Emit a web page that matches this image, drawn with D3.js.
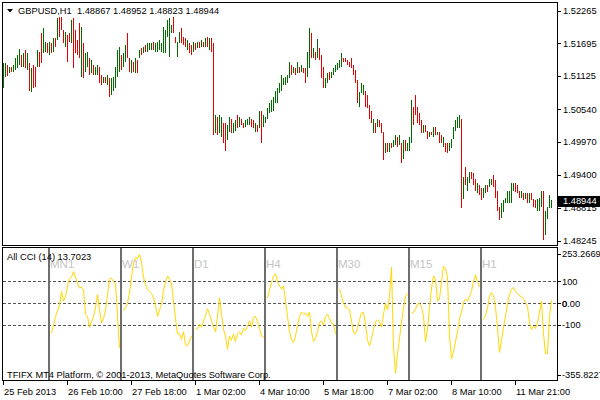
<!DOCTYPE html>
<html><head><meta charset="utf-8">
<script src="https://cdn.jsdelivr.net/npm/d3@7"></script>
<style>
html,body{margin:0;padding:0;background:#fff;}
svg{display:block;}
text{font-family:"Liberation Sans",Arial,sans-serif;white-space:pre;}
</style>
</head><body>
<svg id="c" width="600" height="400"></svg>
<script>
// ---------- DATA ----------
const chartTitle = "GBPUSD,H1  1.48867 1.48952 1.48823 1.48944";
const indicatorTitle = "All CCI (14) 13.7023";
const copyrightText = "TFIFX MT4 Platform, \u00a9 2001-2013, MetaQuotes Software Corp.";
const lastPrice = 1.48944;

const priceHigh = [
1.5135,1.5135,1.5131,1.5128,1.5128,1.5131,1.5143,1.5149,1.5159,1.5149,
1.5152,1.5157,1.5152,1.5135,1.5126,1.5131,1.5128,1.5157,1.5154,1.5187,
1.5196,1.5172,1.5170,1.5172,1.5170,1.5178,1.5178,1.5213,1.5215,1.5215,
1.5192,1.5189,1.5184,1.5187,1.5210,1.5213,1.5192,1.5175,1.5205,1.5198,
1.5170,1.5152,1.5154,1.5143,1.5140,1.5131,1.5128,1.5131,1.5128,1.5114,
1.5110,1.5110,1.5114,1.5108,1.5108,1.5110,1.5128,1.5157,1.5163,1.5149,
1.5152,1.5166,1.5187,1.5143,1.5140,1.5136,1.5143,1.5140,1.5157,1.5161,
1.5163,1.5166,1.5170,1.5170,1.5170,1.5172,1.5170,1.5172,1.5175,1.5170,
1.5198,1.5192,1.5210,1.5213,1.5201,1.5215,1.5180,1.5172,1.5189,1.5196,
1.5180,1.5178,1.5175,1.5170,1.5166,1.5172,1.5170,1.5172,1.5172,1.5175,
1.5172,1.5178,1.5180,1.5178,1.5178,1.5170,1.5044,1.5040,1.5044,1.5040,
1.5031,1.5030,1.5026,1.5040,1.5038,1.5030,1.5035,1.5044,1.5040,1.5038,
1.5031,1.5035,1.5038,1.5040,1.5038,1.5035,1.5030,1.5026,1.5052,1.5052,
1.5044,1.5040,1.5056,1.5065,1.5070,1.5075,1.5087,1.5091,1.5100,1.5114,
1.5108,1.5110,1.5114,1.5136,1.5131,1.5128,1.5126,1.5136,1.5128,1.5131,
1.5126,1.5126,1.5154,1.5196,1.5187,1.5161,1.5154,1.5177,1.5161,1.5149,
1.5128,1.5108,1.5117,1.5119,1.5119,1.5126,1.5131,1.5135,1.5140,1.5152,
1.5143,1.5143,1.5140,1.5136,1.5143,1.5131,1.5122,1.5105,1.5084,1.5101,
1.5096,1.5087,1.5079,1.5061,1.5052,1.5038,1.5031,1.5038,1.5035,1.5030,
1.5014,1.4995,1.4996,1.4995,1.4996,1.5000,1.5009,1.5005,1.5009,1.4996,
1.5000,1.5000,1.4996,1.5005,1.5070,1.5058,1.5079,1.5058,1.5047,1.5035,
1.5026,1.5026,1.5017,1.5014,1.5014,1.5023,1.5023,1.5014,1.5014,1.5009,
1.5005,1.4996,1.4995,1.4995,1.5003,1.5023,1.5035,1.5040,1.5044,1.5038,
1.4935,1.4953,1.4935,1.4944,1.4944,1.4942,1.4933,1.4925,1.4921,1.4916,
1.4916,1.4921,1.4921,1.4933,1.4933,1.4939,1.4930,1.4912,1.4883,1.4890,
1.4895,1.4900,1.4912,1.4912,1.4926,1.4926,1.4926,1.4921,1.4912,1.4912,
1.4907,1.4907,1.4907,1.4907,1.4907,1.4898,1.4895,1.4898,1.4900,1.4912,
1.4912,1.4877,1.4883,1.4904,1.48952];

const priceLow = [
1.5091,1.5110,1.5112,1.5117,1.5119,1.5119,1.5123,1.5126,1.5131,1.5128,
1.5128,1.5126,1.5123,1.5087,1.5084,1.5091,1.5093,1.5128,1.5128,1.5135,
1.5152,1.5154,1.5152,1.5149,1.5152,1.5154,1.5163,1.5175,1.5180,1.5192,
1.5170,1.5163,1.5136,1.5172,1.5170,1.5126,1.5152,1.5149,1.5143,1.5110,
1.5108,1.5119,1.5128,1.5114,1.5117,1.5114,1.5114,1.5114,1.5100,1.5096,
1.5100,1.5101,1.5096,1.5075,1.5079,1.5087,1.5091,1.5110,1.5119,1.5122,
1.5128,1.5136,1.5143,1.5119,1.5117,1.5119,1.5117,1.5117,1.5143,1.5149,
1.5152,1.5154,1.5154,1.5157,1.5157,1.5157,1.5154,1.5154,1.5157,1.5154,
1.5152,1.5152,1.5180,1.5145,1.5187,1.5187,1.5170,1.5145,1.5170,1.5170,
1.5166,1.5163,1.5157,1.5152,1.5149,1.5154,1.5157,1.5161,1.5161,1.5163,
1.5163,1.5163,1.5163,1.5157,1.5154,1.5009,1.5012,1.5009,1.5012,1.5005,
1.4995,1.4982,1.5000,1.5014,1.5012,1.5012,1.5017,1.5021,1.5023,1.5026,
1.5021,1.5023,1.5026,1.5026,1.5023,1.5021,1.5014,1.5014,1.5021,1.4995,
1.5023,1.5030,1.5038,1.5047,1.5049,1.5052,1.5066,1.5066,1.5082,1.5087,
1.5096,1.5096,1.5101,1.5108,1.5114,1.5117,1.5114,1.5117,1.5117,1.5119,
1.5117,1.5101,1.5110,1.5126,1.5143,1.5143,1.5140,1.5143,1.5140,1.5108,
1.5091,1.5091,1.5100,1.5105,1.5108,1.5114,1.5119,1.5122,1.5126,1.5128,
1.5136,1.5136,1.5131,1.5128,1.5126,1.5114,1.5100,1.5066,1.5058,1.5082,
1.5079,1.5058,1.5056,1.5038,1.5030,1.5012,1.5012,1.5023,1.5023,1.5012,
1.4965,1.4977,1.4979,1.4979,1.4986,1.4988,1.4991,1.4988,1.4991,1.4961,
1.4968,1.4982,1.4982,1.4982,1.4995,1.5026,1.5044,1.5030,1.5026,1.5012,
1.5012,1.5014,1.5003,1.5005,1.5009,1.5005,1.5009,1.5009,1.4996,1.4995,
1.4988,1.4979,1.4977,1.4982,1.4986,1.5003,1.5017,1.5021,1.5021,1.4881,
1.4898,1.4921,1.4912,1.4926,1.4933,1.4921,1.4912,1.4907,1.4904,1.4895,
1.4900,1.4907,1.4909,1.4918,1.4921,1.4918,1.4900,1.4877,1.4860,1.4865,
1.4874,1.4890,1.4891,1.4891,1.4891,1.4912,1.4909,1.4907,1.4900,1.4900,
1.4895,1.4898,1.4891,1.4891,1.4895,1.4883,1.4881,1.4877,1.4877,1.4883,
1.4825,1.4834,1.4863,1.4881,1.48823];

// G = bull bar (close above open), R = bear bar
const barDirection = (
"GGRGRGGGGR"+"GRGRGRRGRR"+"GGRGRGRGRR"+"RGRRGRRRRG"+"RGGRGRGGRR"+
"GRGRGGGGGR"+"GGRRGRGRGR"+"GRGGGRGGGG"+"GGGGGRRGGR"+"RRGRRGRGRG"+
"RGRGRRGRGG"+"RRGGRGGRGR"+"RGGGRRGRGR"+"GGGGGGGGGG"+"GGGGRGRGRG"+
"RRGGRGRGRR"+"RGGRGGGGGG"+"RRRRRRRRGG"+"GRRRRGRGRR"+"RGRGRGGRGR"+
"GRGGGRRRRR"+"GRRGRGRGRR"+"GRRGGGGGGR"+"GRGGRRRGRR"+"GGRGGRRRRG"+
"GGGGGGRRRG"+"RGRGRRRGGG"+"RGGGG").split("");

const timeLabels = ["25 Feb 2013","26 Feb 10:00","27 Feb 18:00","1 Mar 02:00","4 Mar 10:00",
                    "5 Mar 18:00","7 Mar 02:00","8 Mar 10:00","11 Mar 21:00"];
const timeLabelBars = [0,32,64,96,128,160,192,224,256];

const priceTicks = [1.52265,1.51695,1.51125,1.50540,1.49970,1.49400,1.48815,1.48245];
const cciTicks = [253.2669,100,0,-100,-355.8227];
const cciTickLabels = ["253.2669","100","0.00","-100","-355.8227"];
const cciLevels = [100,0,-100];

const cciTimeframes = ["MN1","W1","D1","H4","M30","M15","H1"];
const cciMN1 = [-137,-100,-60,-35,-10,55,10,30,80,115,120,145,120,90,70,75,60,-50,-60,-110,
                -85,-60,-20,40,-30,-90,-70,-30,40,110,115,100,90,-60,-205];
const cciW1  = [-35,-20,0,50,120,185,210,205,225,185,120,85,65,55,45,25,-10,-60,-30,-5,
                60,95,125,110,90,10,-70,-140,-140,-165,-130,-190,-195,-170,-150];
const cciD1  = [-120,-115,-95,-110,-80,-55,-25,-50,-80,-110,-130,-60,25,-50,-120,-150,-210,-150,-170,-140,
                -175,-140,-130,-145,-115,-125,-105,-80,-110,-65,-60,-85,-115,-150,-155];
const cciH4  = [25,60,95,125,135,100,80,65,80,10,-60,-130,-165,-180,-150,-100,-60,-40,-50,-45,
                -60,-40,-130,-175,-160,-130,-90,-80,-100,-60,-50,-70,-90,-95,-140];
const cciM30 = [65,35,0,-20,-20,-30,-80,-135,-140,-110,-75,-45,-40,-100,-170,-195,-160,-120,-85,-75,
                -85,-110,-50,0,-30,30,165,-200,-320,-230,-160,-90,-20,30,45];
const cciM15 = [-45,-40,-25,-5,0,-15,-60,-175,-120,-20,70,125,110,10,20,100,170,160,120,-150,
                -255,-220,-175,-130,-70,-40,5,20,10,30,55,100,130,100,75];
const cciH1  = [-75,-55,-20,30,50,35,-20,-110,-225,-170,-110,-60,0,40,65,72,55,45,35,30,
                20,5,-15,-90,-120,-105,-115,-90,-40,10,-140,-230,-230,-60,13.7023];
const cciSeries = [cciMN1,cciW1,cciD1,cciH4,cciM30,cciM15,cciH1];

// ---------- LAYOUT ----------
const FONT = 9.3;
const L = 2.5, R = 557.5, T = 2.5, MB = 245.5, CT = 247.5, CB = 380.5;
const firstSeparatorBar = 23, barsPerBlock = 36;

const svg = d3.select("#c");
svg.append("rect").attr("width",600).attr("height",400).attr("fill","#fff");

const x = d3.scaleLinear().domain([0, priceHigh.length - 1]).range([3.5, 3.5 + 2*(priceHigh.length - 1)]);
const yP = d3.scaleLinear().domain([priceTicks[priceTicks.length-1], priceTicks[0]]).range([240.7, 10.7]);
const yC = d3.scaleLinear().domain([cciTicks[cciTicks.length-1], cciTicks[0]]).range([381, 248]);

// ---------- PRICE BARS ----------
const bars = priceHigh.map((h,i)=>({i, h, l: priceLow[i], d: barDirection[i]}));
svg.append("g").attr("shape-rendering","crispEdges")
  .selectAll("line").data(bars).join("line")
  .attr("x1", d=>x(d.i)).attr("x2", d=>x(d.i))
  .attr("y1", d=>Math.round(yP(d.h)))
  .attr("y2", d=>Math.max(Math.round(yP(d.l)), Math.round(yP(d.h))+1))
  .attr("stroke", d=> d.d==="G" ? "#006c00" : "#e60000")
  .attr("stroke-width",1);

// ---------- PANEL FRAMES ----------
const frames = svg.append("g").attr("shape-rendering","crispEdges").attr("fill","none").attr("stroke","#000");
frames.append("rect").attr("x",L).attr("y",T).attr("width",R-L).attr("height",MB-T);
frames.append("rect").attr("x",L).attr("y",CT).attr("width",R-L).attr("height",CB-CT);

// title
svg.append("path").attr("d","M7,9 L13,9 L10,12.5 Z").attr("fill","#000");
svg.append("text").attr("x",18).attr("y",14).attr("font-size",FONT).attr("fill","#000").text(chartTitle);

// price axis
const pa = svg.append("g");
pa.selectAll("line").data(priceTicks).join("line")
  .attr("x1",R).attr("x2",561).attr("y1",d=>Math.round(yP(d))+0.5).attr("y2",d=>Math.round(yP(d))+0.5)
  .attr("stroke","#000").attr("shape-rendering","crispEdges");
pa.selectAll("text").data(priceTicks).join("text")
  .attr("x",563).attr("y",d=>yP(d)).attr("dy","0.35em").attr("font-size",FONT).attr("fill","#000")
  .text(d=>d.toFixed(5));
// current price tag
const yl = yP(lastPrice);
svg.append("rect").attr("x",558).attr("y",Math.round(yl)-5).attr("width",42).attr("height",11).attr("fill","#000");
svg.append("text").attr("x",563).attr("y",yl).attr("dy","0.35em").attr("font-size",FONT).attr("fill","#fff").text(lastPrice.toFixed(5));

// ---------- CCI PANEL ----------
const cg = svg.append("g");
// level lines
cg.selectAll("line.lvl").data(cciLevels).join("line").attr("class","lvl")
  .attr("x1",3).attr("x2",R).attr("y1",d=>Math.round(yC(d))+0.5).attr("y2",d=>Math.round(yC(d))+0.5)
  .attr("stroke","#555").attr("stroke-dasharray","3,2").attr("shape-rendering","crispEdges");

// timeframe labels
cg.selectAll("text.tf").data(cciTimeframes).join("text").attr("class","tf")
  .attr("x",(d,i)=>x(firstSeparatorBar + i*barsPerBlock)+0.5)
  .attr("y",268).attr("font-size",11.5).attr("fill","#c4c4c4").text(d=>d);

// separators
cg.selectAll("line.sep").data(cciTimeframes).join("line").attr("class","sep")
  .attr("x1",(d,i)=>x(firstSeparatorBar + i*barsPerBlock)-0.5)
  .attr("x2",(d,i)=>x(firstSeparatorBar + i*barsPerBlock)-0.5)
  .attr("y1",CT+0.5).attr("y2",CB-0.5)
  .attr("stroke","#6e6e6e").attr("stroke-width",2).attr("shape-rendering","crispEdges");

// CCI lines
const line = d3.line().x(d=>x(d.k)).y(d=>yC(d.v));
cciSeries.forEach((arr,s)=>{
  const pts = arr.map((v,j)=>({k: firstSeparatorBar + 1 + s*barsPerBlock + j, v}));
  cg.append("path").datum(pts).attr("d",line).attr("fill","none")
    .attr("stroke","#ffd700").attr("stroke-width",1);
});

// indicator texts
svg.append("text").attr("x",7).attr("y",260).attr("font-size",FONT).attr("fill","#000").text(indicatorTitle);
svg.append("text").attr("x",7).attr("y",378).attr("font-size",FONT).attr("fill","#000").text(copyrightText);

// CCI axis
const ca = svg.append("g");
const cciY = d => Math.max(CT+6, Math.min(CB-5.5, yC(d)));
ca.selectAll("line").data(cciTicks).join("line")
  .attr("x1",R).attr("x2",561).attr("y1",d=>Math.round(cciY(d))+0.5).attr("y2",d=>Math.round(cciY(d))+0.5)
  .attr("stroke","#000").attr("shape-rendering","crispEdges");
ca.selectAll("text").data(cciTicks).join("text")
  .attr("x",562).attr("y",d=>cciY(d)).attr("dy","0.35em").attr("font-size",FONT).attr("fill","#000")
  .text((d,i)=>cciTickLabels[i]);
ca.append("text").attr("x",562).attr("y",yC(0)).attr("dy","0.35em").attr("font-size",FONT).attr("fill","#000").text("0");

// ---------- TIME AXIS ----------
const ta = svg.append("g");
ta.selectAll("line").data(timeLabelBars).join("line")
  .attr("x1",d=>x(d)).attr("x2",d=>x(d)).attr("y1",CB).attr("y2",385)
  .attr("stroke","#000").attr("shape-rendering","crispEdges");
ta.selectAll("text").data(timeLabelBars).join("text")
  .attr("x",d=>x(d)+0.5).attr("y",395).attr("font-size",FONT).attr("fill","#000")
  .text((d,i)=>timeLabels[i]);
</script>
</body></html>
